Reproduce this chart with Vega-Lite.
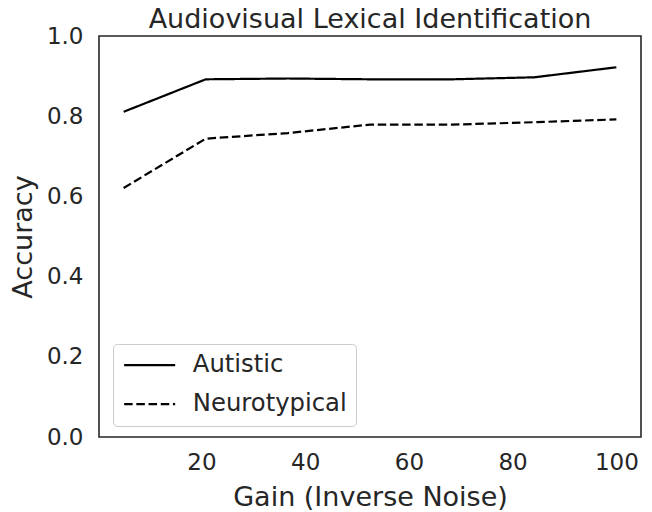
{
  "$schema": "https://vega.github.io/schema/vega-lite/v6.json",
  "autosize": {"type": "none"},
  "width": 542,
  "height": 401,
  "padding": {"left": 99, "top": 36, "right": 11, "bottom": 75},
  "background": "white",
  "title": {"text": "Audiovisual Lexical Identification", "fontSize": 27, "font": "DejaVu Sans", "fontWeight": "normal", "color": "#262626", "offset": -9},
  "data": {
    "values": [
      {"gain": 5, "accuracy": 0.811, "group": "Autistic"},
      {"gain": 20.83, "accuracy": 0.892, "group": "Autistic"},
      {"gain": 36.67, "accuracy": 0.894, "group": "Autistic"},
      {"gain": 52.5, "accuracy": 0.892, "group": "Autistic"},
      {"gain": 68.33, "accuracy": 0.892, "group": "Autistic"},
      {"gain": 84.17, "accuracy": 0.897, "group": "Autistic"},
      {"gain": 100, "accuracy": 0.922, "group": "Autistic"},
      {"gain": 5, "accuracy": 0.621, "group": "Neurotypical"},
      {"gain": 20.83, "accuracy": 0.744, "group": "Neurotypical"},
      {"gain": 36.67, "accuracy": 0.758, "group": "Neurotypical"},
      {"gain": 52.5, "accuracy": 0.779, "group": "Neurotypical"},
      {"gain": 68.33, "accuracy": 0.779, "group": "Neurotypical"},
      {"gain": 84.17, "accuracy": 0.785, "group": "Neurotypical"},
      {"gain": 100, "accuracy": 0.792, "group": "Neurotypical"}
    ]
  },
  "mark": {"type": "line", "color": "black", "strokeWidth": 2.2},
  "encoding": {
    "x": {
      "field": "gain", "type": "quantitative",
      "scale": {"domain": [0.25, 104.75], "nice": false, "zero": false},
      "axis": {"title": "Gain (Inverse Noise)", "values": [20, 40, 60, 80, 100], "grid": false, "domain": false, "ticks": false, "labelPadding": 14, "titlePadding": 10}
    },
    "y": {
      "field": "accuracy", "type": "quantitative",
      "scale": {"domain": [0, 1], "nice": false},
      "axis": {"title": "Accuracy", "values": [0, 0.2, 0.4, 0.6, 0.8, 1.0], "format": ".1f", "grid": false, "domain": false, "ticks": false, "labelPadding": 16, "titlePadding": 9}
    },
    "strokeDash": {
      "field": "group", "type": "nominal",
      "scale": {"domain": ["Autistic", "Neurotypical"], "range": [[1, 0], [8.5, 3.7]]},
      "legend": {
        "title": null, "orient": "none", "legendX": 14, "legendY": 308,
        "symbolType": "M-2.55,0H2.55", "symbolSize": 400, "symbolOffset": 15.5, "symbolStrokeWidth": 2.2, "symbolStrokeColor": "black", "symbolFillColor": "transparent",
        "labelFontSize": 24.3, "labelFont": "DejaVu Sans", "labelColor": "#262626", "labelOffset": 31,
        "strokeColor": "#cccccc", "fillColor": "white", "cornerRadius": 4, "padding": 9, "rowPadding": 14
      }
    }
  },
  "config": {
    "view": {"stroke": "#262626", "strokeWidth": 1.6},
    "axis": {"labelFont": "DejaVu Sans", "titleFont": "DejaVu Sans", "labelFontSize": 23, "titleFontSize": 27, "titleFontWeight": "normal", "labelColor": "#262626", "titleColor": "#262626"}
  }
}
